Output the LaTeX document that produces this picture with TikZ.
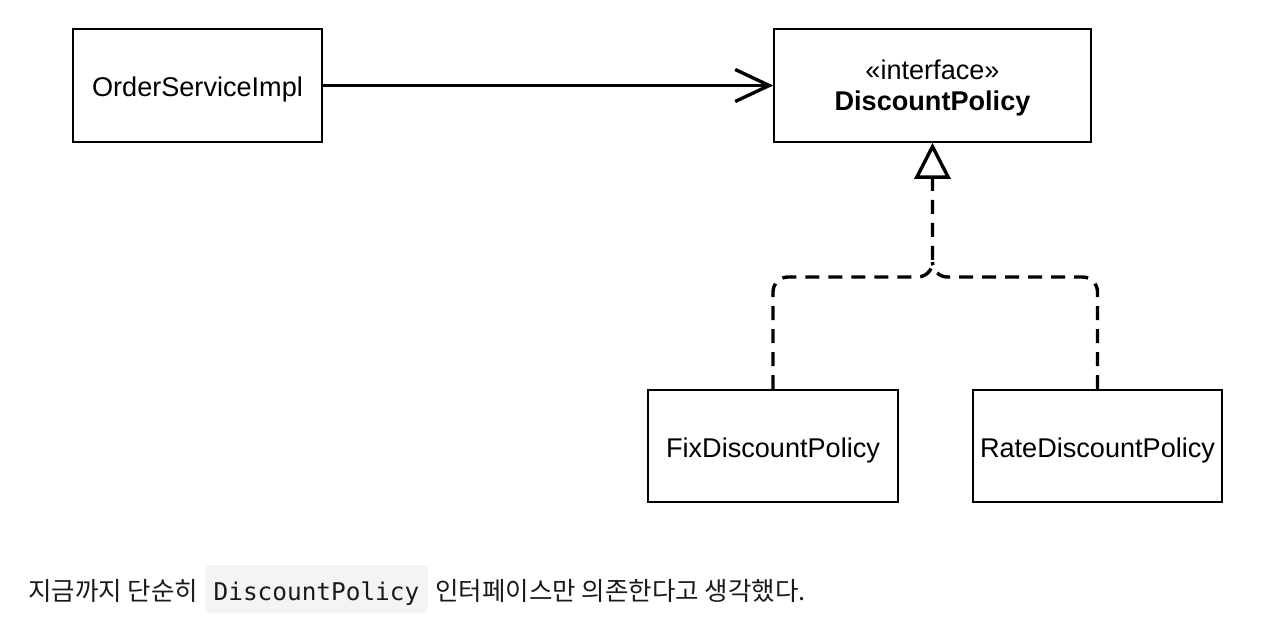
\documentclass[tikz,border=0pt]{standalone}
\usepackage{fontspec}
\setmainfont{Liberation Sans}
\newfontfamily\krfont{Noto Sans CJK KR}
\newfontfamily\codefont{DejaVu Sans Mono}
\usetikzlibrary{arrows.meta}
\definecolor{codebg}{HTML}{F3F4F6}
\definecolor{txt}{HTML}{1A1A1A}
\begin{document}
\begin{tikzpicture}[x=1pt,y=-1pt,
  umlbox/.style={draw=black, line width=1.6pt, fill=white, inner sep=0pt,
    font=\fontsize{27.1}{31}\selectfont, text height=21.5pt, text depth=0pt},
  assoc/.style={line width=3.4pt, -{Straight Barb[length=34pt,width=32pt,line width=3.4pt]}},
  realize/.style={line width=3.4pt, dash pattern=on 14pt off 9pt, rounded corners=15pt},
  realtip/.style={-{Triangle[open,length=36pt,width=36pt,line width=3.4pt,fill=white]}},
  kr/.style={inner sep=0pt, anchor=base west, text=txt, font=\krfont\fontsize{25.5}{30}\selectfont},
]
\useasboundingbox (0,0) rectangle (1280,631);
\fill[white] (0,0) rectangle (1280,631);

\node[umlbox, minimum width=249pt, minimum height=113pt] (osi) at (197.5,85.5) {OrderServiceImpl};
\node[umlbox, minimum width=317pt, minimum height=113pt, align=center, text height=51pt, text depth=0pt] (disc) at (932.5,85.5)
  {«interface»\\\textbf{DiscountPolicy}};
\node[umlbox, minimum width=250pt, minimum height=112pt, text height=22pt] (fix) at (773,446) {FixDiscountPolicy};
\node[umlbox, minimum width=249pt, minimum height=112pt, text height=22pt] (rate) at (1097.5,446) {RateDiscountPolicy};

\coordinate (j) at (932.5,277);

\draw[assoc] (osi.east) -- (disc.west);
\draw[realize, realtip] (fix.north) |- (j) -- (disc.south);
\draw[realize] (rate.north) |- (j) -- ([yshift=15pt]j);

\node[kr] (t1) at (28,600) {지금까지 단순히};
\node[fill=codebg, rounded corners=5pt, minimum width=223pt, minimum height=48pt, inner sep=0pt,
  text height=22pt, text depth=0pt,
  text=txt, font=\codefont\fontsize{24.4}{28}\selectfont] (code) at (316.5,589) {DiscountPolicy};
\node[kr] (t2) at (435,600) {인터페이스만 의존한다고 생각했다.};
\end{tikzpicture}
\end{document}
